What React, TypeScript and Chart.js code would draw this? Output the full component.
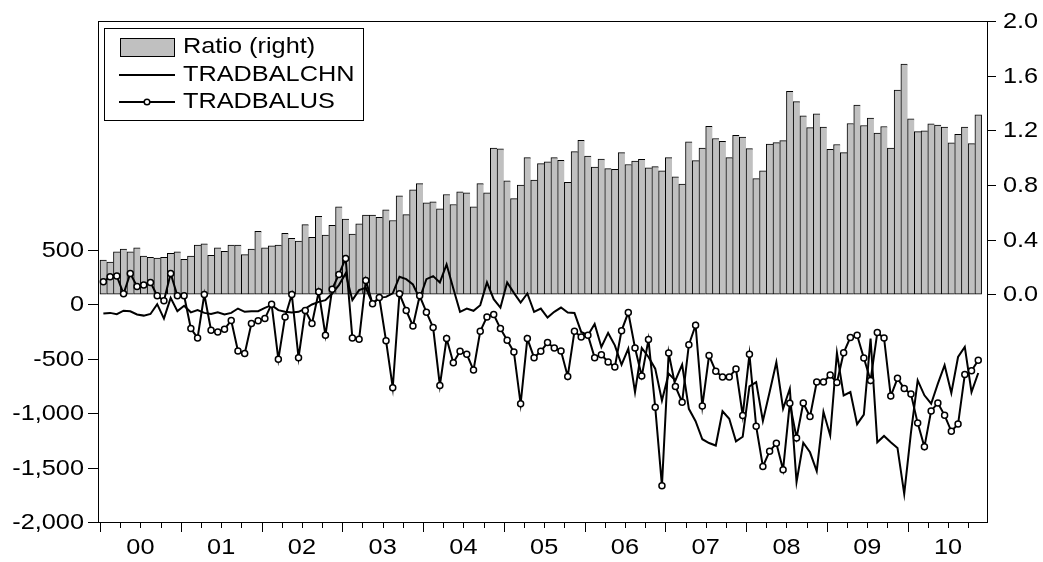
import { useEffect, useRef } from 'react';
import { Chart, registerables } from 'chart.js';

Chart.register(...registerables);

// Monthly observations, 2000M01 .. 2010M11
const START_YEAR = 2000;
const N_OBS = 131;
const months: string[] = Array.from({ length: N_OBS }, (_, i) =>
  `${START_YEAR + Math.floor(i / 12)}M${String((i % 12) + 1).padStart(2, '0')}`
);

// Ratio (right axis)
const ratio = [
  0.25, 0.235, 0.31, 0.33, 0.31, 0.34, 0.28, 0.27, 0.265, 0.27, 0.3, 0.31,
  0.255, 0.28, 0.36, 0.37, 0.285, 0.34, 0.315, 0.36, 0.36, 0.29, 0.33, 0.46,
  0.34, 0.355, 0.36, 0.446, 0.41, 0.39, 0.51, 0.417, 0.57, 0.434, 0.505, 0.64,
  0.55, 0.44, 0.515, 0.58, 0.58, 0.564, 0.618, 0.54, 0.72, 0.583, 0.765, 0.81,
  0.67, 0.676, 0.625, 0.73, 0.657, 0.75, 0.743, 0.64, 0.81, 0.743, 1.07, 1.064,
  0.83, 0.7, 0.8, 1.0, 0.836, 0.956, 0.97, 1.0, 0.98, 0.82, 1.044, 1.127,
  1.012, 0.93, 0.99, 0.92, 0.914, 1.037, 0.95, 0.975, 0.988, 0.926, 0.934, 0.904,
  1.0, 0.86, 0.806, 1.115, 0.978, 1.07, 1.23, 1.14, 1.12, 1.0, 1.164, 1.15,
  1.066, 0.846, 0.904, 1.1, 1.11, 1.125, 1.485, 1.41, 1.306, 1.22, 1.32, 1.223,
  1.06, 1.096, 1.037, 1.25, 1.385, 1.235, 1.29, 1.18, 1.228, 1.07, 1.495, 1.684,
  1.284, 1.19, 1.196, 1.248, 1.238, 1.223, 1.108, 1.17, 1.223, 1.103, 1.314,
];

// TRADBALCHN (left axis)
const tradbalChn = [
  -86, -80, -92, -60, -65, -95, -105, -90, 0, -132, 58, -64,
  -15, -75, -55, -80, -90, -75, -95, -80, -40, -70, -65, -64,
  -34, -9, -55, -70, -77, -70, -40, -3, 21, 37, 98, 175,
  282, 37, 129, 150, 6, 58, 67, 100, 252, 230, 181, 52,
  230, 258, 200, 365, 144, -70, -40, -61, -9, 200, 46, -31,
  200, 104, 15, 98, -70, -40, -123, -70, -31, -77, -80, -255,
  -285, -181, -393, -264, -378, -556, -408, -807, -402, -485, -592, -884,
  -638, -700, -556, -961, -1075, -1240, -1275, -1298, -983, -1052, -1260, -1217,
  -755, -715, -1072, -807, -534, -960, -777, -1632, -1272, -1360, -1532, -988,
  -1206, -448, -838, -807, -1102, -1014, -316, -1268, -1210, -1267, -1320, -1742,
  -1180, -699, -837, -914, -730, -561, -816, -485, -393, -807, -632,
];

// TRADBALUS (left axis)
const tradbalUs = [
  206, 252, 258, 95, 282, 163, 175, 200, 77, 31, 282, 77,
  77, -224, -310, 89, -239, -255, -230, -150, -430, -454, -178, -153,
  -132, 0, -506, -117, 89, -491, -58, -178, 114, -285, 138, 273,
  420, -310, -322, 218, 3, 61, -335, -767, 95, -58, -200, 77,
  -74, -215, -746, -316, -537, -433, -460, -605, -249, -117, -95, -224,
  -332, -439, -915, -316, -491, -433, -353, -402, -430, -663, -249, -301,
  -285, -491, -464, -531, -577, -243, -77, -402, -660, -325, -946, -1667,
  -448, -755, -900, -372, -193, -936, -472, -617, -669, -669, -595, -1022,
  -460, -1122, -1490, -1350, -1277, -1520, -909, -1229, -907, -1032, -715, -715,
  -650, -720, -446, -305, -285, -494, -700, -261, -310, -844, -681, -774,
  -825, -1092, -1310, -980, -907, -1021, -1167, -1101, -646, -612, -515,
];

const yearLabels = ['00', '01', '02', '03', '04', '05', '06', '07', '08', '09', '10'];
const leftTicks = [500, 0, -500, -1000, -1500, -2000];
const rightTicks = [2.0, 1.6, 1.2, 0.8, 0.4, 0.0];

const FONT = '22px "Liberation Sans", Arial, sans-serif';
const STRETCH = 1.15;

function drawText(
  ctx: CanvasRenderingContext2D,
  text: string,
  x: number,
  y: number,
  align: 'left' | 'right' | 'center'
) {
  ctx.save();
  ctx.font = FONT;
  ctx.textBaseline = 'middle';
  ctx.textAlign = 'left';
  ctx.fillStyle = '#000';
  const w = ctx.measureText(text).width * STRETCH;
  const left = align === 'left' ? x : align === 'right' ? x - w : x - w / 2;
  ctx.translate(left, y);
  ctx.scale(STRETCH, 1);
  ctx.fillText(text, 0, 0);
  ctx.restore();
}

const crisp = (v: number) => Math.round(v) + 0.5;

// Frame, axes, ticks, labels and legend in the EViews style
const frameAndAxes = {
  id: 'frameAndAxes',
  afterDraw(chart: any) {
    const ctx: CanvasRenderingContext2D = chart.ctx;
    const { left, right, top, bottom } = chart.chartArea;
    const xs = chart.scales.x;
    const yl = chart.scales.y;
    const yr = chart.scales.y1;

    ctx.save();
    ctx.strokeStyle = '#000';
    ctx.lineWidth = 1;

    // frame
    ctx.strokeRect(crisp(left), crisp(top), Math.round(right - left), Math.round(bottom - top));

    // left axis
    leftTicks.forEach((v) => {
      const y = crisp(yl.getPixelForValue(v));
      ctx.beginPath();
      ctx.moveTo(left - 10, y);
      ctx.lineTo(left, y);
      ctx.stroke();
      drawText(ctx, v.toLocaleString('en-US'), left - 14, y, 'right');
    });

    // right axis
    rightTicks.forEach((v) => {
      const y = crisp(yr.getPixelForValue(v));
      ctx.beginPath();
      ctx.moveTo(right, y);
      ctx.lineTo(right + 9, y);
      ctx.stroke();
      drawText(ctx, v.toFixed(1), right + 16, y, 'left');
    });

    // time axis: quarter ticks, longer at year boundaries
    for (let q = 0; ; q++) {
      const v = -0.5 + 3 * q;
      if (v > xs.max) break;
      const x = crisp(xs.getPixelForValue(v));
      ctx.beginPath();
      ctx.moveTo(x, bottom);
      ctx.lineTo(x, bottom + (q % 4 === 0 ? 10 : 6));
      ctx.stroke();
    }
    yearLabels.forEach((lab, i) => {
      const x = xs.getPixelForValue(-0.5 + 12 * i + 6);
      drawText(ctx, lab, x, bottom + 26, 'center');
    });

    // legend
    const lx = 104, ly = 28, lw = 259, lh = 92;
    ctx.fillStyle = '#fff';
    ctx.fillRect(lx, ly, lw, lh);
    ctx.strokeRect(lx + 0.5, ly + 0.5, lw, lh);

    ctx.fillStyle = '#c0c0c0';
    ctx.fillRect(120, 38, 54, 18);
    ctx.strokeRect(120.5, 38.5, 54, 18);
    drawText(ctx, 'Ratio (right)', 183, 47, 'left');

    ctx.lineWidth = 2;
    ctx.beginPath();
    ctx.moveTo(119, 75);
    ctx.lineTo(175, 75);
    ctx.stroke();
    drawText(ctx, 'TRADBALCHN', 183, 75, 'left');

    ctx.beginPath();
    ctx.moveTo(119, 102);
    ctx.lineTo(175, 102);
    ctx.stroke();
    ctx.lineWidth = 1.5;
    ctx.fillStyle = '#fff';
    ctx.beginPath();
    ctx.arc(147, 102, 2.8, 0, Math.PI * 2);
    ctx.fill();
    ctx.stroke();
    drawText(ctx, 'TRADBALUS', 183, 102, 'left');

    ctx.restore();
  },
};

export default function App() {
  const canvasRef = useRef<HTMLCanvasElement | null>(null);

  useEffect(() => {
    if (!canvasRef.current) return;
    const toXY = (arr: number[]) => arr.map((y, i) => ({ x: i, y }));

    const chart = new Chart(canvasRef.current, {
      type: 'bar',
      data: {
        labels: months,
        datasets: [
          {
            type: 'line',
            label: 'TRADBALUS',
            data: toXY(tradbalUs),
            yAxisID: 'y',
            borderColor: '#000',
            borderWidth: 2,
            pointRadius: 3,
            pointBackgroundColor: '#fff',
            pointBorderColor: '#000',
            pointBorderWidth: 1.5,
            tension: 0,
            order: 1,
          },
          {
            type: 'line',
            label: 'TRADBALCHN',
            data: toXY(tradbalChn),
            yAxisID: 'y',
            borderColor: '#000',
            borderWidth: 2,
            pointRadius: 0,
            tension: 0,
            order: 2,
          },
          {
            type: 'bar',
            label: 'Ratio (right)',
            data: toXY(ratio),
            yAxisID: 'y1',
            backgroundColor: '#c0c0c0',
            borderColor: '#000',
            borderWidth: (c: any) => ({
              top: 1,
              left: 1,
              bottom: 1,
              right: c.dataIndex === ratio.length - 1 ? 1 : 0,
            }),
            borderSkipped: false,
            barPercentage: 1,
            categoryPercentage: 1,
            order: 3,
          } as any,
        ],
      },
      options: {
        responsive: false,
        devicePixelRatio: 1,
        animation: false,
        events: [],
        layout: { padding: { left: 98, right: 56, top: 21, bottom: 40 } },
        plugins: { legend: { display: false }, tooltip: { enabled: false } },
        scales: {
          x: { type: 'linear', offset: false, min: -0.797, max: 131.3, display: false },
          y: { type: 'linear', min: -2000, max: 2600, display: false },
          y1: { type: 'linear', min: -5 / 3, max: 2, display: false },
        },
      },
      plugins: [frameAndAxes],
    });

    return () => chart.destroy();
  }, []);

  return (
    <div style={{ position: 'absolute', left: 0, top: 0, width: 1043, height: 562, background: '#fff' }}>
      <canvas ref={canvasRef} width={1043} height={562} />
    </div>
  );
}
